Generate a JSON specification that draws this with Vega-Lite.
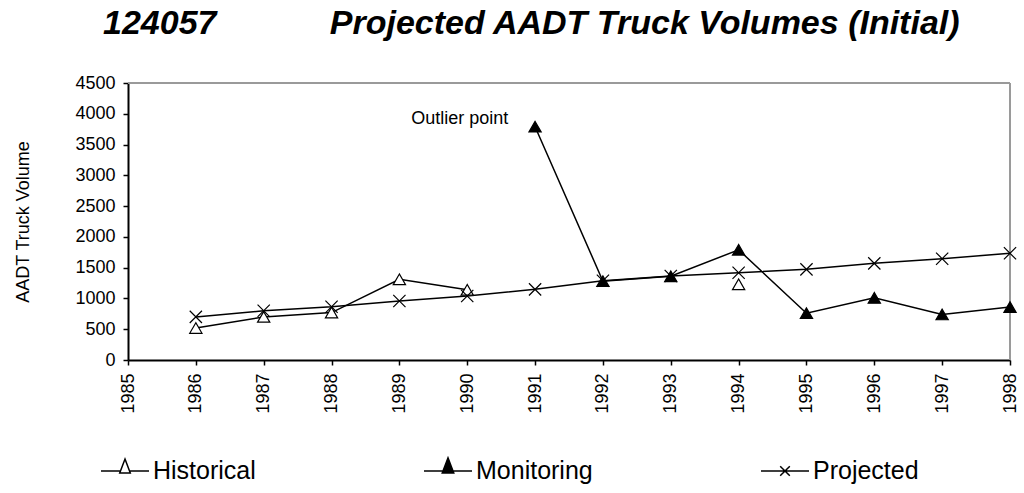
{
  "$schema": "https://vega.github.io/schema/vega-lite/v6.json",
  "width": 882,
  "height": 277,
  "autosize": "none",
  "padding": {"left": 128, "top": 83, "right": 14, "bottom": 133},
  "background": "white",
  "config": {
    "view": {"stroke": null},
    "font": "Liberation Sans",
    "axis": {"labelOverlap": false, "labelSeparation": 0},
    "axisX": {
      "title": null,
      "format": "d",
      "labelAngle": -90,
      "labelFontSize": 18,
      "labelColor": "black",
      "labelPadding": 8,
      "labelFlush": false,
      "labelBound": false,
      "labelOverlap": false,
      "tickColor": "black",
      "tickSize": 5,
      "tickWidth": 1.5,
      "domainColor": "black",
      "domainWidth": 2,
      "grid": false,
      "zindex": 1
    },
    "axisY": {
      "format": "d",
      "labelFontSize": 18,
      "labelColor": "black",
      "labelPadding": 8,
      "labelOverlap": false,
      "labelFlush": false,
      "labelBound": false,
      "tickColor": "black",
      "tickSize": 5,
      "tickWidth": 1.5,
      "domainColor": "black",
      "domainWidth": 2,
      "grid": false,
      "titleFontSize": 18,
      "titleFontWeight": "normal",
      "titleColor": "black",
      "titlePadding": 42,
      "zindex": 1
    }
  },
  "title": {
    "text": "124057\u00a0\u00a0\u00a0\u00a0\u00a0\u00a0\u00a0\u00a0\u00a0\u00a0\u00a0\u00a0Projected AADT Truck Volumes (Initial)",
    "anchor": "start",
    "frame": "group",
    "dx": -25,
    "offset": -1,
    "baseline": "bottom",
    "font": "Liberation Sans",
    "fontSize": 34,
    "fontStyle": "italic",
    "fontWeight": "bold",
    "color": "black"
  },
  "data": {
    "values": [
      {"year": 1986, "series": "Historical", "value": 520},
      {"year": 1987, "series": "Historical", "value": 700},
      {"year": 1988, "series": "Historical", "value": 770},
      {"year": 1989, "series": "Historical", "value": 1310},
      {"year": 1990, "series": "Historical", "value": 1140},
      {"year": 1994, "series": "Historical", "value": 1230},
      {"year": 1986, "series": "Projected", "value": 700},
      {"year": 1987, "series": "Projected", "value": 800},
      {"year": 1988, "series": "Projected", "value": 866},
      {"year": 1989, "series": "Projected", "value": 958},
      {"year": 1990, "series": "Projected", "value": 1040},
      {"year": 1991, "series": "Projected", "value": 1148},
      {"year": 1992, "series": "Projected", "value": 1288},
      {"year": 1993, "series": "Projected", "value": 1364},
      {"year": 1994, "series": "Projected", "value": 1418},
      {"year": 1995, "series": "Projected", "value": 1473},
      {"year": 1996, "series": "Projected", "value": 1570},
      {"year": 1997, "series": "Projected", "value": 1646},
      {"year": 1998, "series": "Projected", "value": 1733},
      {"year": 1991, "series": "Monitoring", "value": 3790},
      {"year": 1992, "series": "Monitoring", "value": 1280},
      {"year": 1993, "series": "Monitoring", "value": 1360},
      {"year": 1994, "series": "Monitoring", "value": 1790},
      {"year": 1995, "series": "Monitoring", "value": 760},
      {"year": 1996, "series": "Monitoring", "value": 1010},
      {"year": 1997, "series": "Monitoring", "value": 740},
      {"year": 1998, "series": "Monitoring", "value": 860}
    ]
  },
  "layer": [
    {
      "data": {"values": [{}]},
      "mark": {"type": "rule", "color": "#9a9a9a", "strokeWidth": 2},
      "encoding": {
        "x": {"datum": 1985, "type": "quantitative", "axis": {"title": null, "values": [1985, 1986, 1987, 1988, 1989, 1990, 1991, 1992, 1993, 1994, 1995, 1996, 1997, 1998]}},
        "x2": {"datum": 1998},
        "y": {"datum": 4500, "type": "quantitative", "axis": {"title": "AADT Truck Volume", "values": [0, 500, 1000, 1500, 2000, 2500, 3000, 3500, 4000, 4500]}}
      }
    },
    {
      "data": {"values": [{}]},
      "mark": {"type": "rule", "color": "#9a9a9a", "strokeWidth": 2},
      "encoding": {
        "x": {"datum": 1998, "type": "quantitative", "axis": {"title": null, "values": [1985, 1986, 1987, 1988, 1989, 1990, 1991, 1992, 1993, 1994, 1995, 1996, 1997, 1998]}},
        "y": {"datum": 0, "type": "quantitative", "axis": {"title": "AADT Truck Volume", "values": [0, 500, 1000, 1500, 2000, 2500, 3000, 3500, 4000, 4500]}},
        "y2": {"datum": 4500}
      }
    },
    {
      "encoding": {
        "x": {
          "field": "year",
          "type": "quantitative",
          "scale": {"domain": [1985, 1998], "nice": false, "zero": false},
          "axis": {"title": null, "values": [1985, 1986, 1987, 1988, 1989, 1990, 1991, 1992, 1993, 1994, 1995, 1996, 1997, 1998]}
        },
        "y": {
          "field": "value",
          "type": "quantitative",
          "scale": {"domain": [0, 4500], "nice": false},
          "axis": {"title": "AADT Truck Volume", "values": [0, 500, 1000, 1500, 2000, 2500, 3000, 3500, 4000, 4500]}
        }
      },
      "layer": [
        {
          "transform": [{"filter": "datum.series != 'Historical' || datum.year <= 1990"}],
          "mark": {"type": "line", "color": "black", "strokeWidth": 1.5},
          "encoding": {
            "detail": {"field": "series", "type": "nominal"}
          }
        },
        {
          "transform": [{"filter": "datum.series == 'Historical'"}],
          "mark": {"type": "point", "shape": "triangle-up", "filled": true, "fill": "white", "stroke": "black", "strokeWidth": 1.2, "size": 150, "opacity": 1}
        },
        {
          "transform": [{"filter": "datum.series == 'Monitoring'"}],
          "mark": {"type": "point", "shape": "triangle-up", "filled": true, "fill": "black", "stroke": "black", "strokeWidth": 1.2, "size": 150, "opacity": 1}
        },
        {
          "transform": [{"filter": "datum.series == 'Projected'"}],
          "mark": {"type": "point", "shape": "M-1,-1L1,1M-1,1L1,-1", "filled": false, "stroke": "black", "strokeWidth": 1.2, "size": 150, "opacity": 1}
        },
        {
          "transform": [{"filter": "datum.value < 0"}],
          "mark": {"type": "point", "filled": true, "strokeWidth": 1.5, "size": 2304, "opacity": 1},
          "encoding": {
            "shape": {
              "field": "series",
              "type": "nominal",
              "scale": {
                "domain": ["Historical", "Monitoring", "Projected"],
                "range": [
                  "M-1,0H-0.2M0.2,0H1M0,-0.5L0.22,0.08L-0.22,0.08Z",
                  "M-1,0H1M0,-0.55L0.24,0.08L-0.24,0.08Z",
                  "M-1,0H1M-0.2,-0.2L0.2,0.2M-0.2,0.2L0.2,-0.2"
                ]
              },
              "legend": {
                "orient": "none",
                "legendX": -28,
                "legendY": 363,
                "direction": "horizontal",
                "title": null,
                "symbolSize": 2304,
                "symbolStrokeWidth": 1.5,
                "labelFontSize": 25,
                "labelFont": "Liberation Sans",
                "labelColor": "black",
                "labelOffset": 3,
                "columnPadding": 165
              }
            },
            "fill": {
              "field": "series",
              "type": "nominal",
              "scale": {"domain": ["Historical", "Monitoring", "Projected"], "range": ["white", "black", "black"]},
              "legend": {
                "orient": "none",
                "legendX": -28,
                "legendY": 363,
                "direction": "horizontal",
                "title": null,
                "symbolSize": 2304,
                "symbolStrokeWidth": 1.5,
                "labelFontSize": 25,
                "labelFont": "Liberation Sans",
                "labelColor": "black",
                "labelOffset": 3,
                "columnPadding": 165
              }
            },
            "stroke": {
              "field": "series",
              "type": "nominal",
              "scale": {"domain": ["Historical", "Monitoring", "Projected"], "range": ["black", "black", "black"]},
              "legend": {
                "orient": "none",
                "legendX": -28,
                "legendY": 363,
                "direction": "horizontal",
                "title": null,
                "symbolSize": 2304,
                "symbolStrokeWidth": 1.5,
                "labelFontSize": 25,
                "labelFont": "Liberation Sans",
                "labelColor": "black",
                "labelOffset": 3,
                "columnPadding": 165
              }
            }
          }
        }
      ]
    },
    {
      "data": {"values": [{}]},
      "mark": {"type": "text", "align": "center", "baseline": "alphabetic", "fontSize": 18, "font": "Liberation Sans", "fill": "black"},
      "encoding": {
        "x": {"datum": 1989.89, "type": "quantitative", "axis": {"title": null, "values": [1985, 1986, 1987, 1988, 1989, 1990, 1991, 1992, 1993, 1994, 1995, 1996, 1997, 1998]}},
        "y": {"datum": 3830, "type": "quantitative", "axis": {"title": "AADT Truck Volume", "values": [0, 500, 1000, 1500, 2000, 2500, 3000, 3500, 4000, 4500]}},
        "text": {"value": "Outlier point"}
      }
    }
  ]
}
